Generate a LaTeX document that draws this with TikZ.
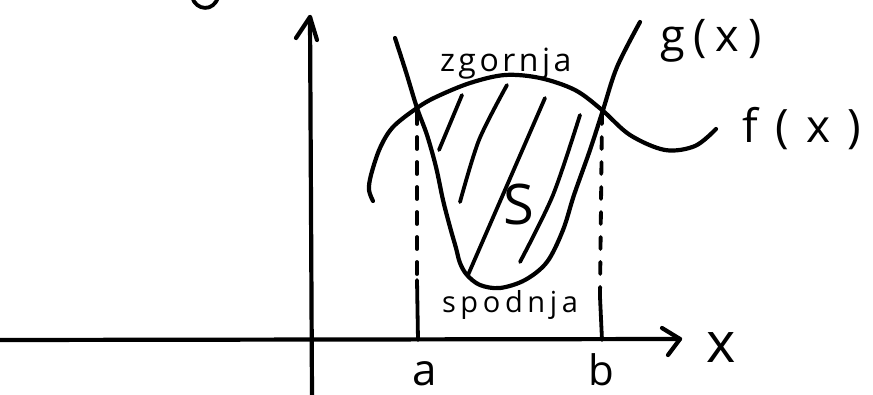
\documentclass[tikz,border=0pt]{standalone}
\usepackage{fontspec}
\setmainfont{Open Sans}
\newcommand\handtxt[3]{{\fontsize{#1}{#1}\selectfont\addfontfeature{LetterSpace=#2}#3}}
\begin{document}
\begin{tikzpicture}[x=1pt,y=-1pt,
  pen/.style={line width=4.2pt, line cap=round, line join=round},
  thinpen/.style={line width=3.8pt, line cap=round, line join=round},
  dashpen/.style={thinpen, dash pattern=on 12pt off 13pt},
  lbl/.style={inner sep=0pt, outer sep=0pt, text=black}]
\useasboundingbox (0,0) rectangle (873,394);
\fill[white] (0,0) rectangle (873,394);

% partial axis letter cut at the top
\draw[thinpen] (192,-3) .. controls (196,11) and (214,12) .. (218,-3);

% axes
\coordinate (O) at (312,396);
\coordinate (ytip) at (310,17);
\coordinate (yl) at (296,38);
\coordinate (yr) at (317,40);
\coordinate (xs) at (-3,340);
\coordinate (xtip) at (680,339);
\coordinate (xu) at (662,328);
\coordinate (xd) at (668,355);
\draw[pen] (O) -- (ytip);
\draw[pen] (yl) -- (ytip) -- (yr);
\draw[pen] (xs) -- (xtip);
\draw[pen] (xu) -- (xtip) -- (xd);

% f(x)
\draw[pen] plot[smooth, tension=0.55] coordinates {(373,201) (369,190) (371,175) (380,148) (393,127) (417,108) (436,97) (470,83) (505,75) (540,78) (575,90) (602,110) (630,135) (665,150) (695,146) (716,129)};
% g(x)
\draw[pen] plot[smooth, tension=0.55] coordinates {(395,38) (406,72) (417,108) (427,135) (436,167) (443,200) (450,227) (456,248) (460,263) (467,275) (480,285) (500,288) (525,280) (547,262) (563,230) (574,195) (590,150) (603,110) (617,67) (640,22)};

% hatching
\draw[thinpen] (462,95) -- (439,150);
\draw[thinpen] plot[smooth] coordinates {(507,85) (479,140) (460,202)};
\draw[thinpen] (545,98) -- (468,275);
\draw[thinpen] plot[smooth] coordinates {(580,115) (553,195) (520,262)};

% dashed verticals
\coordinate (at) at (417,112);
\coordinate (am) at (417,280);
\coordinate (ab) at (418,340);
\coordinate (bt) at (602,112);
\coordinate (bm) at (600,297);
\coordinate (bb) at (602,340);
\draw[dashpen] (at) -- (am);
\draw[thinpen] (am) -- (ab);
\draw[dashpen] (bt) -- (bm);
\draw[thinpen] (bm) -- (bb);

% labels
\node[lbl, anchor=base west] (glab) at (660,51) {\handtxt{45}{20}{g(x)}};
\node[lbl, anchor=base west] (flab) at (742,142) {\handtxt{46}{38}{f(x)}};
\node[lbl, anchor=base west] (zg) at (440,71) {\handtxt{32}{11}{zgornja}};
\node[lbl, anchor=base west] (sp) at (442,312) {\handtxt{29}{16}{spodnja}};
\node[lbl, anchor=base] (S) at (519,224) {\handtxt{56}{0}{S}};
\node[lbl, anchor=base] (alab) at (425,385) {\handtxt{44}{0}{a}};
\node[lbl, anchor=base] (blab) at (601,385) {\handtxt{42}{0}{b}};
\node[lbl, anchor=base] (xlab) at (721,362) {\handtxt{56}{0}{x}};
\end{tikzpicture}
\end{document}
